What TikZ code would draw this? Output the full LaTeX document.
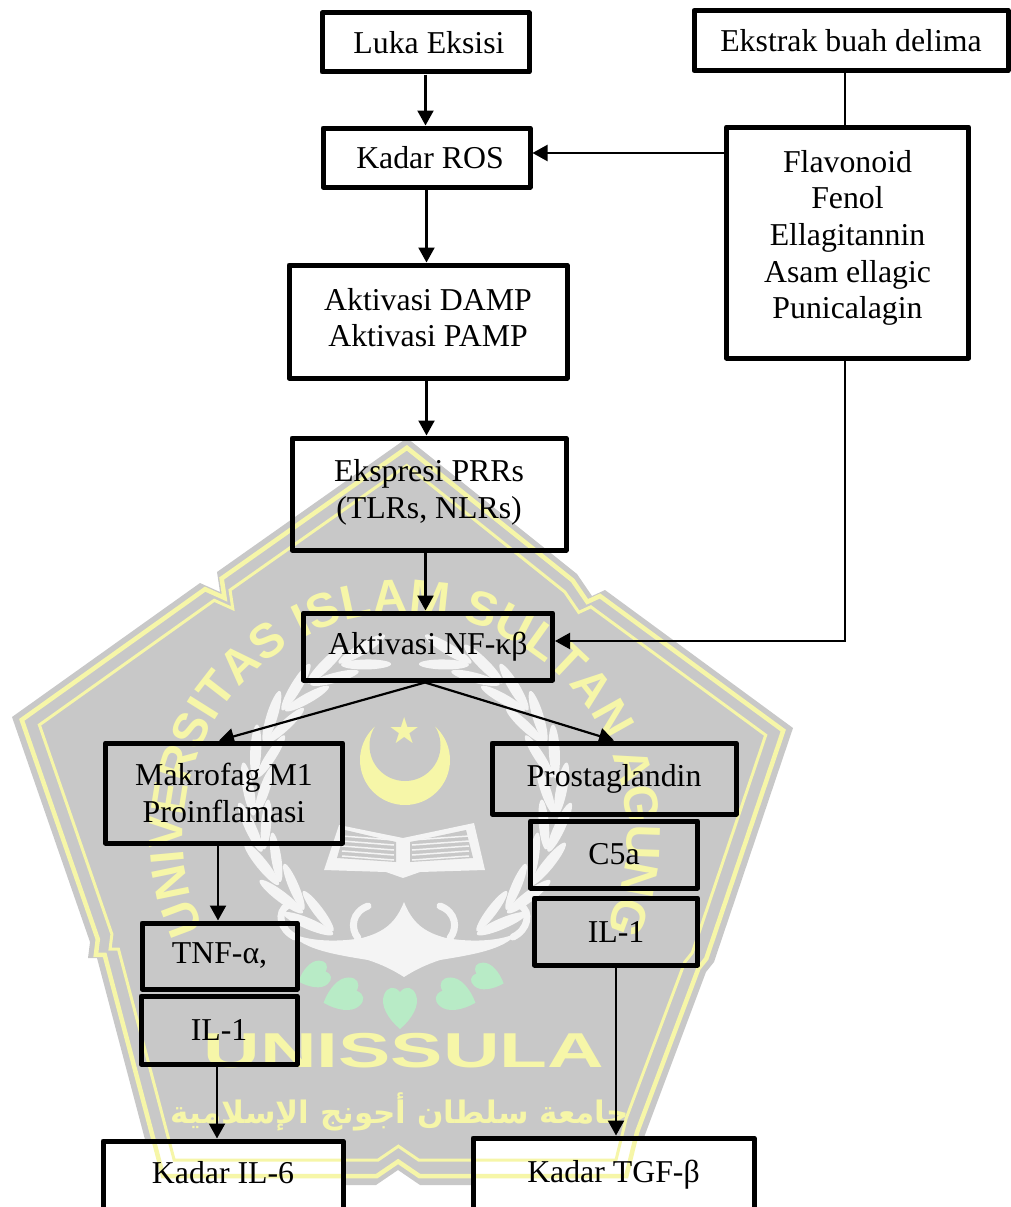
\documentclass[tikz,border=0pt]{standalone}
\usepackage{fontspec}
\setmainfont{Liberation Serif}
\newfontfamily\wmfont{Liberation Sans}[BoldFont={Liberation Sans Bold}]
\newfontfamily\arabicfont[Script=Arabic]{DejaVu Sans}
\newfontfamily\symfont{DejaVu Sans}
\TeXXeTstate=1
\usetikzlibrary{arrows.meta,decorations.text}
\definecolor{wmgray}{RGB}{200,200,200}
\definecolor{wmyellow}{RGB}{246,246,168}
\definecolor{wmleaf}{RGB}{184,235,198}
\definecolor{wmwhite}{RGB}{244,244,244}
\tikzset{
  box/.style={draw,line width=5pt,line join=round,align=center,inner sep=0pt,
    font=\fontsize{31.8}{36.6}\selectfont},
  arr/.style={line width=2.2pt,-{Triangle[length=15pt,width=16pt]}},
  link/.style={line width=2.2pt},
  curl/.style={wmwhite,line width=7pt,line cap=round}
}
\newcommand{\wmoutline}{(407,438) -- (577,574) -- (592,596) -- (605,590) -- (793,728) -- (714,962) -- (706,972) -- (643,1140) -- (632,1185) -- (420,1185) -- (398,1170) -- (376,1185) -- (157,1185) -- (97,958) -- (88,958) -- (90,942) -- (12,717) -- (200,583) -- (220,592) -- (217,572) -- cycle}
\begin{document}
\begin{tikzpicture}[x=1pt,y=-1pt]
\useasboundingbox (0,0) rectangle (1011,1207);
\clip (0,0) rectangle (1011,1207);
\fill[wmgray] \wmoutline;
\fill[white] (103.5,1141) rectangle (343,1210);
\fill[white] (473,1138) rectangle (754,1210);
\foreach \s/\w in {.975/4.5,.93/3}
{
  \begin{scope}[shift={(403,830)},scale=\s,shift={(-403,-830)}]
    \draw[wmyellow,line width=\w pt] \wmoutline;
  \end{scope}
}
\path[decorate,decoration={text along path,text align={fit to path},
  text={|\wmfont\bfseries\fontsize{48}{48}\selectfont\color{wmyellow}|UNIVERSITAS ISLAM SULTAN AGUNG}}]
  (405,835) ++(-205:222) arc (-205:25:222);
\fill[wmyellow] (405,760) circle (45pt);
\fill[wmgray] (405,745.5) circle (35.5pt);
\node[wmyellow,inner sep=0pt,font=\symfont\fontsize{36}{36}\selectfont] (wmstar) at (405,731) {★};
\foreach \a in {106,120,...,232}
{
  \fill[wmwhite] (405,800) ++(-\a:157) ellipse [x radius=27pt,y radius=5.5pt,rotate=\a+105];
  \fill[wmwhite] (405,800) ++(-\a:141) ellipse [x radius=25pt,y radius=5pt,rotate=\a+75];
  \fill[wmwhite] (405,800) ++(\a-180:157) ellipse [x radius=27pt,y radius=5.5pt,rotate=75-\a];
  \fill[wmwhite] (405,800) ++(\a-180:141) ellipse [x radius=25pt,y radius=5pt,rotate=105-\a];
}
\fill[wmwhite] (324,870) -- (339,825) -- (403,838) -- (474,823) -- (485,870) -- (420,872) -- (403,878) -- (386,872) -- cycle;
\fill[wmgray] (345,830) -- (396,842) -- (396,862) -- (337,858) -- cycle;
\fill[wmgray] (466,830) -- (410,842) -- (410,862) -- (473,858) -- cycle;
\foreach \y in {836,841,...,856}
{
  \draw[wmwhite,line width=1.5pt] (342,\y) -- (394,\y+4);
  \draw[wmwhite,line width=1.5pt] (469,\y) -- (412,\y+4);
}
\fill[wmwhite] (404,902) .. controls (396,922) and (385,932) .. (362,938)
  .. controls (340,942) and (310,942) .. (291,933)
  .. controls (303,950) and (338,955) .. (368,960)
  .. controls (383,965) and (393,970) .. (404,977)
  .. controls (415,970) and (425,965) .. (440,960)
  .. controls (470,955) and (505,950) .. (517,933)
  .. controls (498,942) and (468,942) .. (446,938)
  .. controls (423,932) and (412,922) .. (404,902) -- cycle;
\draw[curl] (368,906) .. controls (352,912) and (350,928) .. (358,938);
\draw[curl] (440,906) .. controls (456,912) and (458,928) .. (450,938);
\draw[curl] (288,905) .. controls (276,912) and (280,930) .. (295,937);
\draw[curl] (520,905) .. controls (532,912) and (528,930) .. (513,937);
\foreach \x/\y/\r/\k in {316/975/20/.78,345/995/20/.95,400/1005/90/1,454/995/160/.95,486/977/160/.78}
{
  \fill[wmleaf,shift={(\x,\y)},rotate=\r,scale=\k] (-24,0) .. controls (-14,-12) and (0,-20) .. (10,-16)
    .. controls (18,-13) and (20,-6) .. (13,0) .. controls (20,6) and (18,13) .. (10,16)
    .. controls (0,20) and (-14,12) .. (-24,0) -- cycle;
}
\node[wmyellow,inner sep=0pt] (wmname) at (404,1051) {\scalebox{1.6}[1]{\wmfont\bfseries\fontsize{49}{49}\selectfont UNISSULA}};
\node[wmyellow,inner sep=0pt] (wmarabic) at (400,1112) {\arabicfont\bfseries\fontsize{31}{31}\selectfont\beginR جامعة سلطان أجونج الإسلامية\endR};

\node[box,minimum width=207pt,minimum height=59pt] (luka) at (425.5,42.5) {\hspace*{7pt}Luka Eksisi};
\node[box,minimum width=314pt,minimum height=60pt] (ekstrak) at (851,40.5) {Ekstrak buah delima};
\node[box,minimum width=207pt,minimum height=59pt] (kros) at (426.5,157.5) {\hspace*{7pt}Kadar ROS};
\node[box,minimum width=242pt,minimum height=231pt,text depth=16pt] (flav) at (847.5,242.5) {Flavonoid\\Fenol\\Ellagitannin\\Asam ellagic\\Punicalagin};
\node[box,minimum width=278pt,minimum height=113pt,text depth=8pt] (damp) at (428,321.5) {Aktivasi DAMP\\Aktivasi PAMP};
\node[box,minimum width=274pt,minimum height=112pt,text depth=10pt] (prr) at (429,494) {Ekspresi PRRs\\(TLRs, NLRs)};
\node[box,minimum width=249pt,minimum height=67pt] (nf) at (428,646.5) {Aktivasi NF-κβ};
\node[box,minimum width=237pt,minimum height=100pt] (mak) at (224,793) {Makrofag M1\\Proinflamasi};
\node[box,minimum width=244pt,minimum height=71pt] (pros) at (614,778.5) {Prostaglandin};
\node[box,minimum width=167pt,minimum height=67pt] (c5a) at (614,854.5) {C5a};
\node[box,minimum width=163pt,minimum height=67pt] (ilkanan) at (616,931.5) {IL-1};
\node[box,minimum width=155pt,minimum height=66pt] (tnf) at (219.5,956) {TNF-α,};
\node[box,minimum width=156pt,minimum height=68pt] (ilkiri) at (219,1030) {IL-1};
\node[box,minimum width=240pt,minimum height=100pt,text depth=38pt] (il6) at (223,1191) {Kadar IL-6};
\node[box,minimum width=281pt,minimum height=110pt,text depth=44pt] (tgf) at (613.5,1193) {Kadar TGF-β};

\coordinate (rosin) at ([yshift=4.5pt]kros.east);
\coordinate (nfin) at ([yshift=5.5pt]nf.east);
\coordinate (nfup) at ([xshift=-2.5pt]nf.north);
\coordinate (flavup) at ([xshift=-2.5pt]flav.north);
\coordinate (flavdown) at ([xshift=-2.5pt]flav.south);
\draw[arr] (luka.south) -- (luka.south |- kros.north);
\draw[arr] (kros.south) -- (kros.south |- damp.north);
\draw[arr] (damp.south -| kros.south) -- (prr.north -| kros.south);
\draw[arr] (prr.south -| nfup) -- (nfup);
\draw[link] (ekstrak.south -| flavup) -- (flavup);
\draw[arr] (rosin -| flav.west) -- (rosin);
\draw[arr] (flavdown) |- (nfin);
\draw[arr] ([xshift=-3pt]nf.south) -- ([xshift=-5pt]mak.north);
\draw[arr] ([xshift=-3pt]nf.south) -- (pros.north);
\draw[arr] ([xshift=-6pt]mak.south) -- ([xshift=-6pt]mak.south |- tnf.north);
\draw[arr] ([xshift=-2pt]ilkiri.south) -- ([xshift=-2pt]ilkiri.south |- il6.north);
\draw[arr] (ilkanan.south) -- (ilkanan.south |- tgf.north);
\end{tikzpicture}
\end{document}
